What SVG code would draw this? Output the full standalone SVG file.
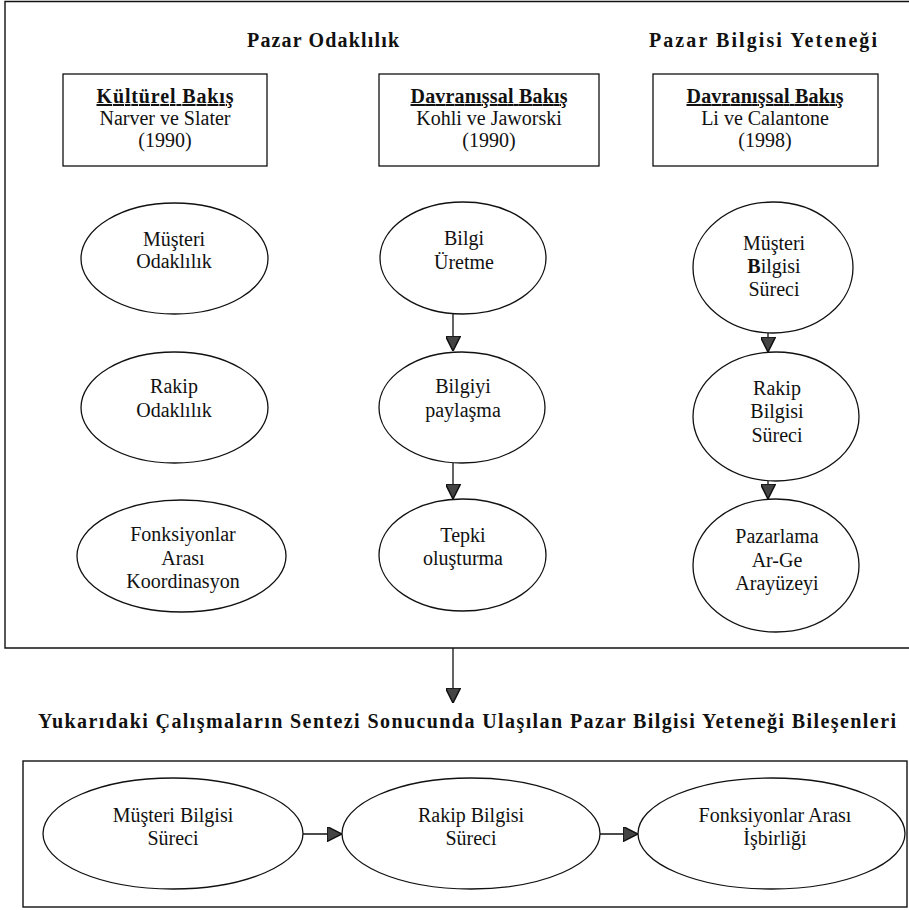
<svg xmlns="http://www.w3.org/2000/svg" width="909" height="910" viewBox="0 0 909 910">
<style>
  text { font-family: "Liberation Serif", "Times New Roman", serif; font-size: 20px; fill: #111; text-anchor: middle; }
  .b { font-weight: bold; }
  .u { text-decoration: underline; }
  .frame { fill: none; stroke: #111; stroke-width: 1.4; }
  .node { fill: #fff; stroke: #111; stroke-width: 1.3; }
  .edge { fill: none; stroke: #111; stroke-width: 1.3; marker-end: url(#ah); }
</style>
<defs>
  <marker id="ah" viewBox="0 0 10 10" refX="10" refY="5" markerWidth="15" markerHeight="15" markerUnits="userSpaceOnUse" orient="auto">
    <path d="M0,0 L10,5 L0,10 z" fill="#444" stroke="#111" stroke-width="1"/>
  </marker>
</defs>
<rect width="909" height="910" fill="#fff"/>

<g id="frames">
  <path class="frame" d="M912,1.5 L5,1.5 L5,648 L912,648"/>
  <rect class="frame" x="23" y="761" width="884" height="146"/>
</g>

<g id="titles">
  <text class="b" x="323" y="47" textLength="152" lengthAdjust="spacing">Pazar Odaklılık</text>
  <text class="b" x="763" y="47" textLength="228" lengthAdjust="spacing">Pazar Bilgisi Yeteneği</text>
  <text class="b" x="467" y="728" textLength="858" lengthAdjust="spacing">Yukarıdaki Çalışmaların Sentezi Sonucunda Ulaşılan Pazar Bilgisi Yeteneği Bileşenleri</text>
</g>

<g id="box-kulturel">
  <rect class="node" x="63" y="74" width="204" height="92"/>
  <text class="b u" x="165" y="103" textLength="137" lengthAdjust="spacing">Kültürel Bakış</text>
  <text x="165" y="125">Narver ve Slater</text>
  <text x="165" y="147">(1990)</text>
</g>
<g id="box-davranissal1">
  <rect class="node" x="379" y="74" width="220" height="92"/>
  <text class="b u" x="489" y="103" textLength="157" lengthAdjust="spacing">Davranışsal Bakış</text>
  <text x="489" y="125">Kohli ve Jaworski</text>
  <text x="489" y="147">(1990)</text>
</g>
<g id="box-davranissal2">
  <rect class="node" x="653" y="74" width="225" height="92"/>
  <text class="b u" x="765" y="103" textLength="157" lengthAdjust="spacing">Davranışsal Bakış</text>
  <text x="765" y="125">Li ve Calantone</text>
  <text x="765" y="147">(1998)</text>
</g>

<g id="musteri-odaklilik">
  <ellipse class="node" cx="174.5" cy="258.5" rx="93.5" ry="55.5"/>
  <text x="174" y="246">Müşteri</text>
  <text x="174" y="268">Odaklılık</text>
</g>
<g id="rakip-odaklilik">
  <ellipse class="node" cx="174.5" cy="407.5" rx="93.5" ry="55.5"/>
  <text x="174" y="393">Rakip</text>
  <text x="174" y="417">Odaklılık</text>
</g>
<g id="fonksiyonlar-koordinasyon">
  <ellipse class="node" cx="181.5" cy="556" rx="104.5" ry="56"/>
  <text x="183" y="541">Fonksiyonlar</text>
  <text x="183" y="565">Arası</text>
  <text x="183" y="588">Koordinasyon</text>
</g>

<g id="bilgi-uretme">
  <ellipse class="node" cx="463" cy="258" rx="83" ry="56"/>
  <text x="464" y="245">Bilgi</text>
  <text x="464" y="269">Üretme</text>
</g>
<g id="bilgiyi-paylasma">
  <ellipse class="node" cx="462" cy="407.5" rx="83" ry="55.5"/>
  <text x="463" y="393">Bilgiyi</text>
  <text x="463" y="417">paylaşma</text>
</g>
<g id="tepki-olusturma">
  <ellipse class="node" cx="462.5" cy="555" rx="83.5" ry="56"/>
  <text x="463" y="542">Tepki</text>
  <text x="463" y="565">oluşturma</text>
</g>

<g id="musteri-bilgisi-sureci">
  <ellipse class="node" cx="773" cy="267.5" rx="80" ry="65.5"/>
  <text x="774" y="250">Müşteri</text>
  <text x="774" y="273"><tspan font-weight="bold">B</tspan>ilgisi</text>
  <text x="774" y="296">Süreci</text>
</g>
<g id="rakip-bilgisi-sureci">
  <ellipse class="node" cx="776" cy="416.5" rx="83" ry="64.5"/>
  <text x="777" y="395">Rakip</text>
  <text x="777" y="418">Bilgisi</text>
  <text x="777" y="442">Süreci</text>
</g>
<g id="pazarlama-arge">
  <ellipse class="node" cx="776" cy="565.5" rx="83" ry="66.5"/>
  <text x="777" y="543">Pazarlama</text>
  <text x="777" y="567">Ar-Ge</text>
  <text x="777" y="590">Arayüzeyi</text>
</g>

<g id="b-musteri-bilgisi">
  <ellipse class="node" cx="173" cy="833.5" rx="130" ry="55.5"/>
  <text x="173" y="822">Müşteri Bilgisi</text>
  <text x="173" y="845">Süreci</text>
</g>
<g id="b-rakip-bilgisi">
  <ellipse class="node" cx="471" cy="833.5" rx="129" ry="55.5"/>
  <text x="471" y="822">Rakip Bilgisi</text>
  <text x="471" y="845">Süreci</text>
</g>
<g id="b-fonksiyonlar-isbirligi">
  <ellipse class="node" cx="771.5" cy="833.5" rx="133.5" ry="55.5"/>
  <text x="775" y="822">Fonksiyonlar Arası</text>
  <text x="775" y="845">İşbirliği</text>
</g>

<g id="connectors">
  <line class="edge" x1="453" y1="314" x2="453" y2="351"/>
  <line class="edge" x1="453" y1="463" x2="453" y2="499"/>
  <line class="edge" x1="768" y1="333" x2="768" y2="352"/>
  <line class="edge" x1="768" y1="481" x2="768" y2="499"/>
  <line class="edge" x1="453" y1="648" x2="453" y2="703"/>
  <line class="edge" x1="303" y1="834" x2="342" y2="834"/>
  <line class="edge" x1="600" y1="834" x2="638" y2="834"/>
</g>
</svg>
